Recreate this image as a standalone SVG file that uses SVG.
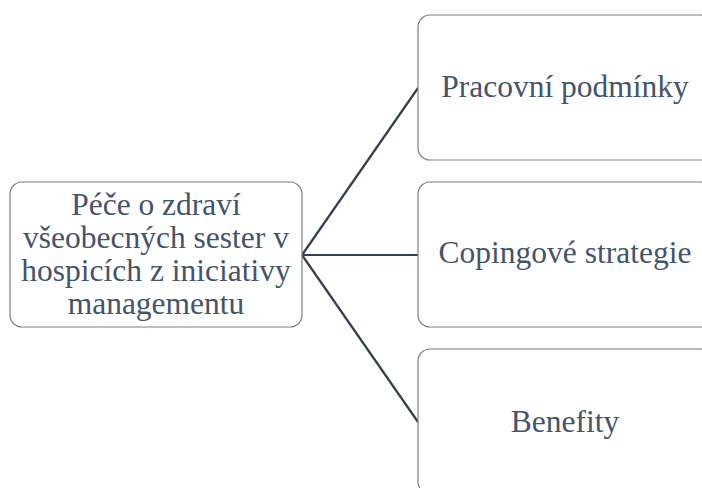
<svg xmlns="http://www.w3.org/2000/svg" width="702" height="488" viewBox="0 0 702 488">
<style>
.box{fill:#ffffff;stroke:#7f7f7f;stroke-width:1.2}
.t{font-family:"Liberation Serif","Times New Roman",serif;font-size:31.5px;fill:#44546a;text-anchor:middle}
.c{stroke:#333f50;stroke-width:2.2;fill:none}
</style>
<rect width="702" height="488" fill="#ffffff"/>
<g id="connectors">
<line class="c" x1="302" y1="255" x2="418" y2="88"/>
<line class="c" x1="302" y1="255" x2="418" y2="255"/>
<line class="c" x1="302" y1="255" x2="418" y2="422"/>
</g>
<g id="root">
<rect class="box" x="10" y="182" width="292" height="145" rx="12"/>
<text class="t" x="156" y="215">Péče o zdraví</text>
<text class="t" x="156" y="248">všeobecných sester v</text>
<text class="t" x="156" y="281">hospicích z iniciativy</text>
<text class="t" x="156" y="314">managementu</text>
</g>
<g id="n1">
<rect class="box" x="418" y="15" width="294" height="145" rx="12"/>
<text class="t" x="565" y="97">Pracovní podmínky</text>
</g>
<g id="n2">
<rect class="box" x="418" y="182" width="294" height="145" rx="12"/>
<text class="t" x="565" y="263">Copingové strategie</text>
</g>
<g id="n3">
<rect class="box" x="418" y="349" width="294" height="145" rx="12"/>
<text class="t" x="565" y="432">Benefity</text>
</g>
</svg>
